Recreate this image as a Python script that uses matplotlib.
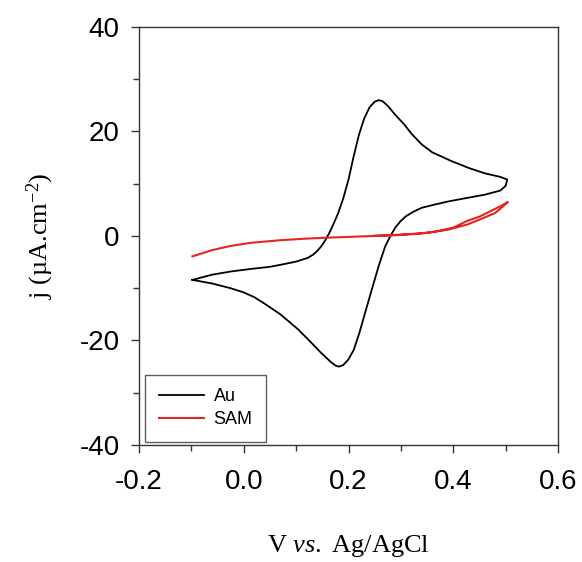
import matplotlib
matplotlib.use("Agg")
import matplotlib.pyplot as plt
from matplotlib.ticker import MultipleLocator

plt.rcParams["mathtext.fontset"] = "custom"
plt.rcParams["mathtext.rm"] = "Liberation Serif"
plt.rcParams["mathtext.it"] = "Liberation Serif:italic"
plt.rcParams["axes.unicode_minus"] = False

# Au cyclic voltammogram (V, uA/cm2)
# upper (anodic) branch, then the return (cathodic) branch
au_v = [-0.098, -0.06, -0.025, 0.014, 0.05, 0.071, 0.10, 0.122, 0.132, 0.14, 0.147, 0.154,
        0.163, 0.17, 0.18, 0.19, 0.20, 0.21, 0.22, 0.23, 0.24, 0.25, 0.258, 0.265, 0.275,
        0.29, 0.306, 0.32, 0.34, 0.36, 0.395, 0.43, 0.46, 0.49, 0.503,
        0.50, 0.49, 0.46, 0.427, 0.39, 0.364, 0.34, 0.325, 0.31, 0.30, 0.29, 0.281,
        0.27, 0.262, 0.256, 0.249, 0.24, 0.23, 0.22, 0.21, 0.20, 0.19, 0.182, 0.175,
        0.165, 0.147, 0.125, 0.103, 0.07, 0.039, 0.02, 0.0, -0.025, -0.06, -0.098]
au_j = [-8.4, -7.4, -6.8, -6.3, -5.9, -5.5, -4.9, -4.2, -3.6, -2.9, -2.1, -1.1,
        0.5, 2.0, 4.3, 7.2, 10.8, 15.3, 19.4, 22.5, 24.6, 25.7, 26.0, 25.8, 24.9,
        23.1, 21.4, 19.6, 17.5, 16.0, 14.4, 13.0, 12.0, 11.3, 10.8,
        9.6, 8.7, 7.9, 7.3, 6.6, 6.0, 5.4, 4.7, 3.8, 2.9, 1.7, 0.2,
        -2.0, -4.4, -6.3, -8.7, -11.8, -15.3, -18.8, -21.8, -23.6, -24.7, -25.0, -24.8,
        -24.0, -22.3, -20.0, -17.8, -15.0, -12.9, -11.7, -10.8, -10.0, -9.1, -8.4]

# SAM modified electrode (thin loop)
sam_v = [-0.098, -0.06, -0.025, 0.014, 0.071, 0.12, 0.166, 0.22, 0.281, 0.33, 0.364,
         0.40, 0.427, 0.45, 0.472, 0.49, 0.504,
         0.50, 0.48, 0.459, 0.427, 0.39, 0.35, 0.30, 0.25]
sam_j = [-3.9, -2.7, -1.9, -1.3, -0.8, -0.5, -0.3, -0.1, 0.1, 0.4, 0.8,
         1.6, 2.9, 3.7, 4.8, 5.7, 6.5,
         6.1, 4.4, 3.5, 2.2, 1.2, 0.6, 0.25, 0.05]

xticks = [-0.2, 0.0, 0.2, 0.4, 0.6]
xticklabels = ["-0.2", "0.0", "0.2", "0.4", "0.6"]
yticks = [-40, -20, 0, 20, 40]

fig = plt.figure(figsize=(5.82, 5.62), dpi=100)
ax = fig.add_axes([0.2388, 0.2082, 0.720, 0.7438])

ax.plot(au_v, au_j, color="black", lw=1.3, label="Au")
ax.plot(sam_v, sam_j, color="#e3261f", lw=1.5, label="SAM")

ax.set_xlim(-0.2, 0.6)
ax.set_ylim(-40, 40)
ax.set_xticks(xticks)
ax.set_xticklabels(xticklabels)
ax.set_yticks(yticks)
ax.xaxis.set_minor_locator(MultipleLocator(0.1))
ax.yaxis.set_minor_locator(MultipleLocator(10))
ax.tick_params(which="both", direction="out", width=1, color="#333333")
ax.tick_params(which="major", length=6, labelsize=20)
ax.tick_params(which="minor", length=4)
ax.tick_params(axis="x", which="major", pad=11)
ax.tick_params(axis="y", which="major", pad=8)
for lab in ax.get_xticklabels() + ax.get_yticklabels():
    lab.set_family("Liberation Sans")
for sp in ax.spines.values():
    sp.set_linewidth(1.0)
    sp.set_color("#333333")

ax.set_xlabel(r"V $\mathit{vs.}$ Ag/AgCl", fontsize=19, family="Liberation Serif", labelpad=28)
ax.set_ylabel(r"j (µA.cm$^{\mathrm{-2}}$)", fontsize=19, family="Liberation Serif", labelpad=17)

leg = ax.legend(loc="lower left", bbox_to_anchor=(6 / 419, 3 / 418), borderaxespad=0,
                frameon=True, fancybox=False, handlelength=2.5, handletextpad=0.55,
                borderpad=0.75, labelspacing=0.35,
                prop={"family": "Liberation Sans", "size": 13})
leg.get_frame().set_edgecolor("#333333")
leg.get_frame().set_linewidth(1.0)

fig.savefig("out.png", dpi=100)
